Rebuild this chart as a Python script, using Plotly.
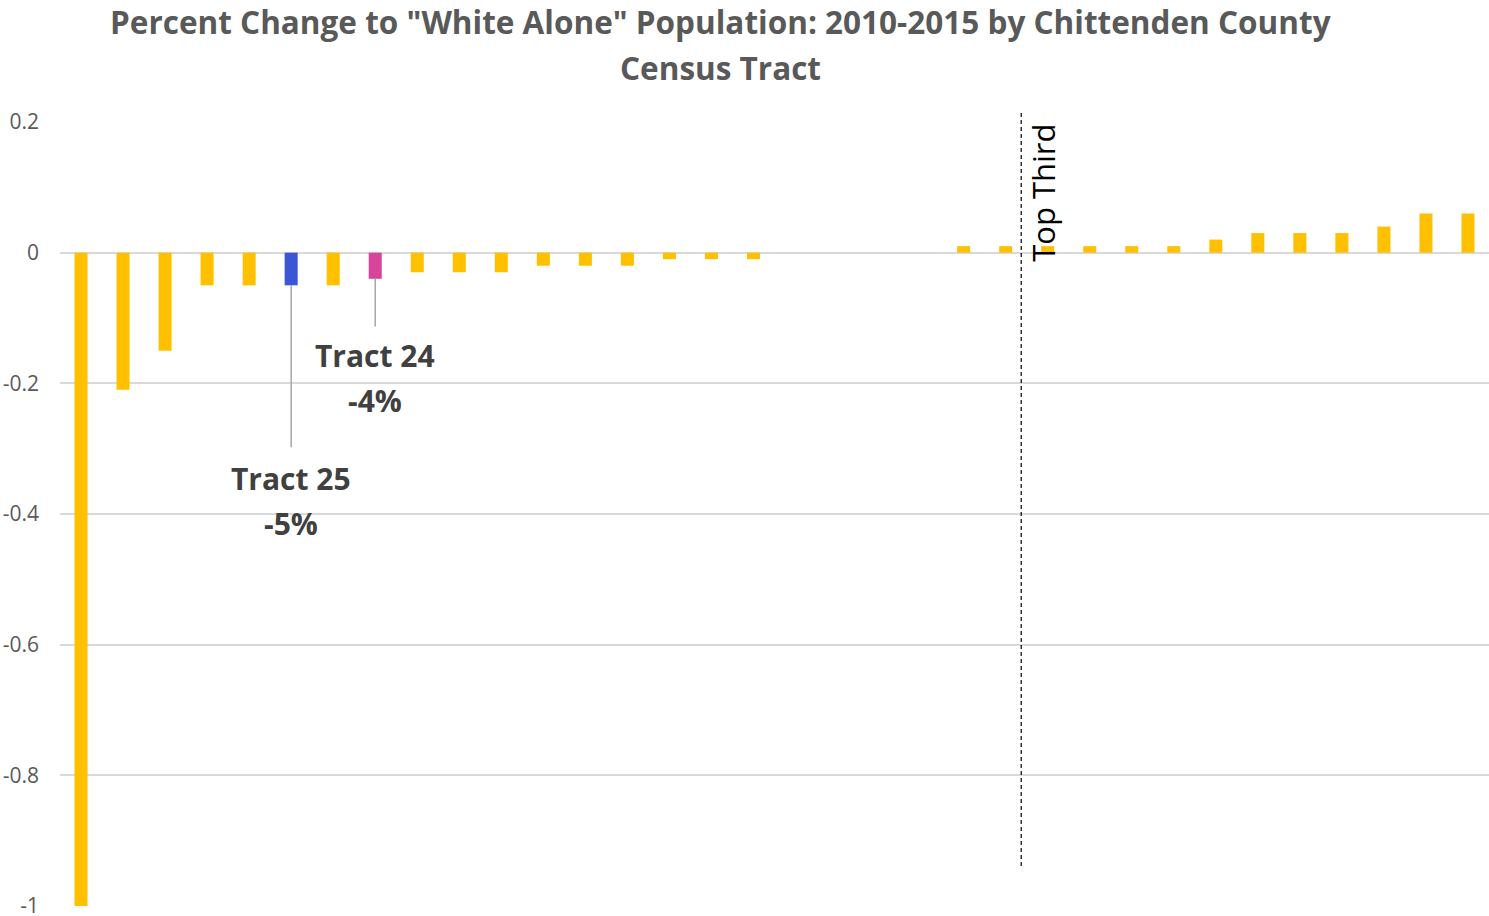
import plotly.graph_objects as go

# Percent change (as fraction) for each census tract, sorted ascending
values = [-1.0, -0.21, -0.15, -0.05, -0.05, -0.05, -0.05, -0.04, -0.03, -0.03,
          -0.03, -0.02, -0.02, -0.02, -0.01, -0.01, -0.01, 0.0, 0.0, 0.0,
          0.0, 0.01, 0.01, 0.01, 0.01, 0.01, 0.01, 0.02, 0.03, 0.03,
          0.03, 0.04, 0.06, 0.06]
positions = list(range(len(values)))
highlight = {5: "#3B57D6", 7: "#D6459B"}  # Tract 25, Tract 24
default_color = "#FFC000"
colors = [highlight.get(i, default_color) for i in positions]

tick_vals = [-1, -0.8, -0.6, -0.4, -0.2, 0, 0.2]
tick_text = ["-1", "-0.8", "-0.6", "-0.4", "-0.2", "0", "0.2"]

title_lines = ['Percent Change to "White Alone" Population: 2010-2015 by Chittenden County', 'Census Tract']

callouts = [
    {"idx": 5, "name": "Tract 25", "pct": "-5%", "line_end": -0.298, "y1": -0.345, "y2": -0.414},
    {"idx": 7, "name": "Tract 24", "pct": "-4%", "line_end": -0.113, "y1": -0.157, "y2": -0.227},
]
top_third_x = 22.37

fig = go.Figure()
fig.add_trace(go.Bar(x=positions, y=values, marker=dict(color=colors, line=dict(width=0)),
                     width=0.31, showlegend=False))

shapes = []
annotations = []
for c in callouts:
    shapes.append(dict(type="line", xref="x", yref="y", x0=c["idx"], x1=c["idx"],
                       y0=values[c["idx"]], y1=c["line_end"],
                       line=dict(color="#A6A6A6", width=1.5)))
    annotations.append(dict(x=c["idx"], y=c["y1"], xref="x", yref="y", text="<b>" + c["name"] + "</b>",
                            showarrow=False, font=dict(family="Open Sans", size=30, color="#404040")))
    annotations.append(dict(x=c["idx"], y=c["y2"], xref="x", yref="y", text="<b>" + c["pct"] + "</b>",
                            showarrow=False, font=dict(family="Open Sans", size=30, color="#404040")))

shapes.append(dict(type="line", xref="x", yref="paper", x0=top_third_x, x1=top_third_x,
                   y0=1.0115, y1=0.0474, line=dict(color="black", width=1.2, dash="4px,3px")))
annotations.append(dict(x=top_third_x + 0.5, y=0.092, xref="x", yref="y", text="Top Third",
                        textangle=-90, showarrow=False,
                        font=dict(family="Open Sans", size=31, color="black")))

for line_text, ypos in zip(title_lines, [1.1276, 1.0689]):
    annotations.append(dict(x=0.462, y=ypos, xref="paper", yref="paper", xanchor="center",
                            yanchor="middle", text="<b>" + line_text + "</b>", showarrow=False,
                            font=dict(family="Open Sans", size=31.5, color="#595959")))

fig.update_layout(
    width=1489, height=916,
    margin=dict(l=60, r=0, t=122, b=10),
    paper_bgcolor="white", plot_bgcolor="white",
    xaxis=dict(range=[-0.5, len(values) - 0.5], showticklabels=False, showgrid=False,
               zeroline=False, showline=False, ticks="", automargin=False),
    yaxis=dict(range=[-1.0, 0.2], tickvals=tick_vals, ticktext=tick_text,
               showgrid=True, gridcolor="#D9D9D9", gridwidth=1.5, zeroline=False,
               tickfont=dict(family="Open Sans", size=21, color="#595959"), ticks="",
               ticklabelstandoff=20, ticklabeloverflow="allow", automargin=False),
    shapes=shapes, annotations=annotations,
)

fig.write_html("out.html")
